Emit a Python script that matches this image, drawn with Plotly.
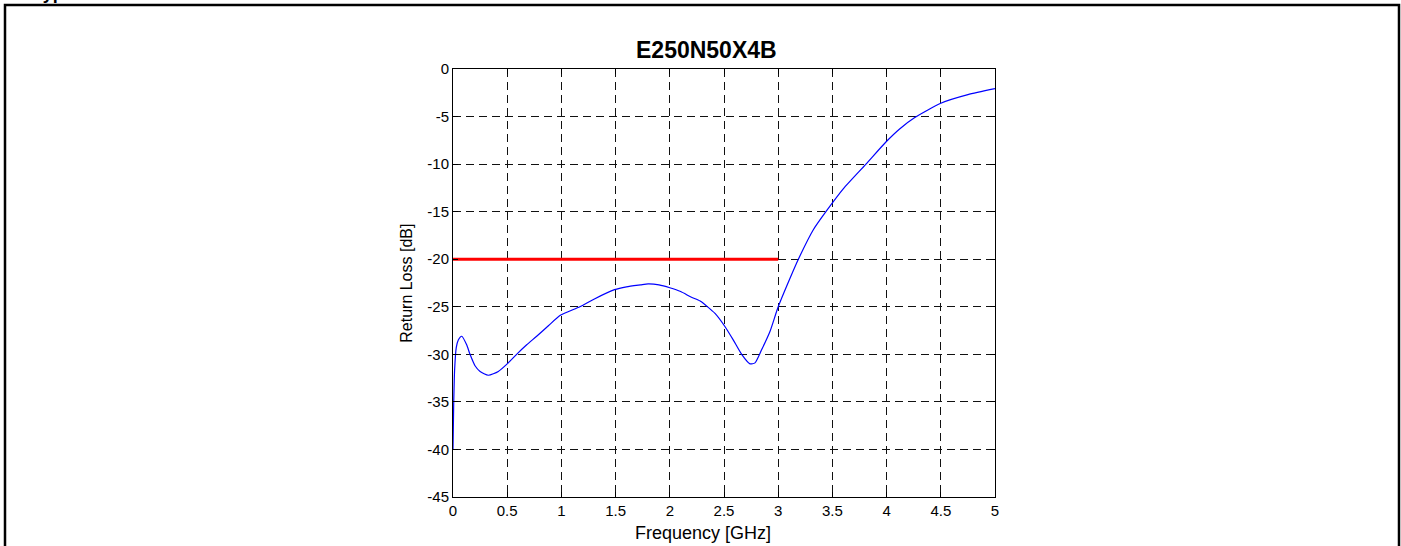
import plotly.graph_objects as go

# ---- data ----
freq_ghz = [0.0, 0.006, 0.015, 0.03, 0.049, 0.08, 0.126, 0.157, 0.203, 0.25, 0.326, 0.418,
            0.51, 0.587, 0.68, 0.772, 0.88, 0.99, 1.17, 1.3, 1.49, 1.6, 1.73, 1.8, 1.9,
            2.0, 2.1, 2.2, 2.28, 2.417, 2.51, 2.586, 2.663, 2.74, 2.786, 2.848, 2.924,
            3.0, 3.109, 3.186, 3.324, 3.44, 3.6, 3.81, 4.0, 4.12, 4.26, 4.5, 4.75, 5.0]
return_loss_db = [-40.0, -35.5, -31.6, -29.3, -28.5, -28.1, -29.0, -30.0, -31.2, -31.8, -32.2, -31.8,
                  -30.9, -30.0, -29.0, -28.1, -27.0, -25.9, -25.0, -24.2, -23.2, -22.9, -22.7, -22.6, -22.7,
                  -23.0, -23.4, -24.0, -24.4, -25.7, -27.1, -28.5, -30.0, -31.0, -30.9, -29.5, -27.6,
                  -25.0, -22.0, -20.0, -16.9, -15.0, -12.6, -10.0, -7.6, -6.3, -5.1, -3.6, -2.7, -2.07]

limit_freq = [0.0, 3.0]
limit_db = [-20.0, -20.0]

x_tick_vals = [0, 0.5, 1, 1.5, 2, 2.5, 3, 3.5, 4, 4.5, 5]
x_tick_text = ["0", "0.5", "1", "1.5", "2", "2.5", "3", "3.5", "4", "4.5", "5"]
y_tick_vals = [0, -5, -10, -15, -20, -25, -30, -35, -40, -45]
y_tick_text = ["0", "-5", "-10", "-15", "-20", "-25", "-30", "-35", "-40", "-45"]

title_text = "E250N50X4B"
x_label = "Frequency [GHz]"
y_label = "Return Loss [dB]"
header_text = "Typical"

# ---- layout geometry (pixels) ----
W, H = 1401, 546
L, R, T, B = 453, 995, 69, 497.5


def px_x(p):
    return (p - L) / (R - L)


def px_y(p):
    return (B - p) / (B - T)


FONT = "Arial, 'Liberation Sans', Helvetica, sans-serif"

fig = go.Figure()
fig.add_trace(go.Scatter(x=freq_ghz, y=return_loss_db, mode="lines",
                         line=dict(color="#0000ff", width=1.2, shape="spline", smoothing=0.6),
                         showlegend=False, hoverinfo="skip"))
fig.add_trace(go.Scatter(x=limit_freq, y=limit_db, mode="lines",
                         line=dict(color="#ff0000", width=3), showlegend=False,
                         hoverinfo="skip"))

axis_common = dict(
    showgrid=True, gridcolor="#111111", gridwidth=1, griddash="8px,5px",
    showline=True, linecolor="black", linewidth=1, mirror="ticks",
    ticks="inside", ticklen=5, tickcolor="black", tickwidth=1,
    zeroline=False, tickfont=dict(family=FONT, size=15, color="black"),
)

fig.update_xaxes(range=[0, 5], tickvals=x_tick_vals, ticktext=x_tick_text, **axis_common)
fig.update_yaxes(range=[-45, 0], tickvals=y_tick_vals, ticktext=y_tick_text, **axis_common)

annotations = [
    dict(text="<b>" + title_text + "</b>", x=px_x(706), y=px_y(50), xref="paper", yref="paper",
         xanchor="center", yanchor="middle", showarrow=False,
         font=dict(family=FONT, size=23, color="black")),
    dict(text=x_label, x=px_x(703), y=px_y(534), xref="paper", yref="paper",
         xanchor="center", yanchor="middle", showarrow=False,
         font=dict(family=FONT, size=18, color="black")),
    dict(text=y_label, x=px_x(407), y=px_y(284), xref="paper", yref="paper",
         xanchor="center", yanchor="middle", textangle=-90, showarrow=False,
         font=dict(family=FONT, size=16, color="black")),
    dict(text="<b>" + header_text + "</b>", x=px_x(31), y=px_y(5), xref="paper", yref="paper",
         xanchor="left", yanchor="bottom", showarrow=False,
         font=dict(family=FONT, size=18, color="black")),
]

shapes = [
    dict(type="rect", xref="paper", yref="paper",
         x0=px_x(5), x1=px_x(1399), y0=px_y(620), y1=px_y(5),
         line=dict(color="black", width=2.5), fillcolor="rgba(0,0,0,0)", layer="above"),
]

fig.update_layout(
    width=W, height=H,
    margin=dict(l=L, r=W - R, t=T, b=H - B, pad=0),
    paper_bgcolor="white", plot_bgcolor="white",
    annotations=annotations, shapes=shapes,
    font=dict(family=FONT, color="black"),
)

fig.write_html("out.html", config={"displayModeBar": False},
               post_script="document.body.style.margin='0';")
